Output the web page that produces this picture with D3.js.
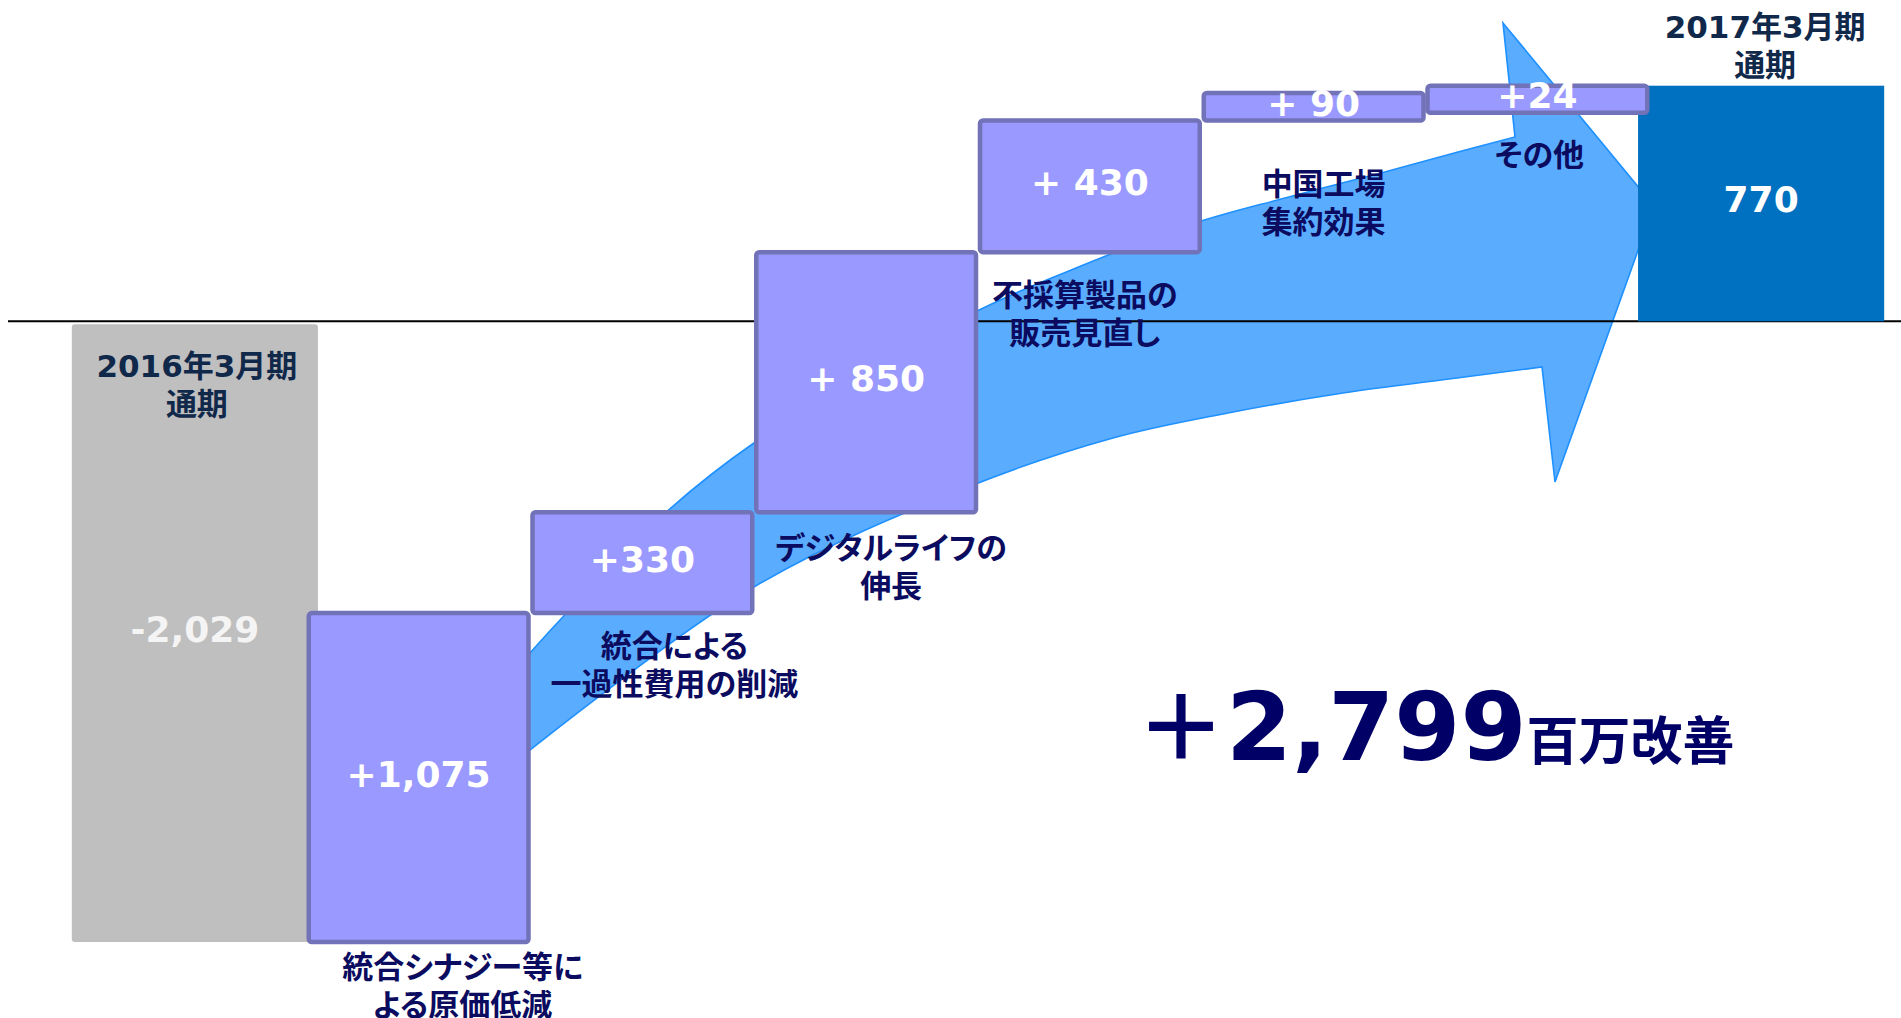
<!DOCTYPE html>
<html>
<head>
<meta charset="utf-8">
<script src="https://cdn.jsdelivr.net/npm/d3@7"></script>
<style>
html, body { margin: 0; padding: 0; background: #fff; overflow: hidden; }
svg { display: block; }
text { font-weight: bold; }
.jp { font-family: "Noto Sans CJK JP", sans-serif; font-feature-settings: "palt"; }
.num { font-family: "DejaVu Sans", "Noto Sans CJK JP", sans-serif; }
</style>
</head>
<body>
<div id="chart"></div>
<script>
// data (百万円)
const categories = ["2016年3月期通期", "統合シナジー等による原価低減", "統合による一過性費用の削減",
    "デジタルライフの伸長", "不採算製品の販売見直し", "中国工場集約効果", "その他", "2017年3月期通期"];
const labelLines = [["2016年3月期", "通期"], ["統合シナジー等に", "よる原価低減"], ["統合による", "一過性費用の削減"],
    ["デジタルライフの", "伸長"], ["不採算製品の", "販売見直し"], ["中国工場", "集約効果"], ["その他"], ["2017年3月期", "通期"]];
const startValue = -2029;
const stepValues = [1075, 330, 850, 430, 90, 24];
const endValue = 770;
const valueLabels = ["-2,029", "+1,075", "+330", "+ 850", "+ 430", "+ 90", "+24", "770"];
const improvementValue = 2799;
const improvementUnit = "百万改善";

// label nudges (px), totals anchored to bar top, steps to bar bottom
const labelDx = [2, 44, 32, 25, -5, 10, 2, 4];
const labelDy = [41, 24, 32, 35, 42, 63, 42, -59];

const width = 1901, height = 1018;

// build waterfall rows
var rows = [];
rows.push({cat: categories[0], from: 0, to: startValue, total: true});
var run = startValue;
stepValues.forEach(function(v, i) {
    rows.push({cat: categories[i + 1], from: run, to: run + v, total: false});
    run += v;
});
rows.push({cat: categories[7], from: 0, to: endValue, total: true});

const svg = d3.select("#chart").append("svg")
    .attr("width", width)
    .attr("height", height);

const x = d3.scaleBand()
    .domain(categories)
    .range([83, 1873])
    .padding(0);

const y = d3.scaleLinear()
    .domain(d3.extent(rows.flatMap(d => [d.from, d.to])))
    .range([942, 85.7]);

const step = x.step();
const cx = d => x(d.cat) + x.bandwidth() / 2;

// decorative arrow behind the bars (pixel outline)
const arrowUpper = [[515, 670], [560, 620], [663, 515], [754, 443], [969, 315], [1076, 268], [1192, 224],
    [1285, 198], [1381, 173], [1458, 152], [1515, 137]];
const arrowHead = [[1503, 23], [1654, 206], [1555, 482], [1542, 367]];
const arrowLower = [[1542, 367], [1457, 378], [1343, 393], [1228, 413], [1113, 438], [968, 487], [754, 587], [515, 762]];
const curve = d3.line().curve(d3.curveCatmullRom.alpha(0.5));
svg.append("path")
    .attr("d", curve(arrowUpper) + arrowHead.map(p => "L" + p).join("") + curve(arrowLower).replace(/^M/, "L") + "Z")
    .attr("fill", "#5aacff")
    .attr("stroke", "#1e90ff")
    .attr("stroke-width", 1.6)
    .attr("stroke-linejoin", "miter");

// zero line
svg.append("line")
    .attr("x1", 8).attr("x2", width)
    .attr("y1", y(0)).attr("y2", y(0))
    .attr("stroke", "#000")
    .attr("stroke-width", 2);

// geometry for every bar
rows.forEach(function(d) {
    if (d.total) {
        d.w = step * 1.1;
        d.top = y(Math.max(d.from, d.to));
        d.bottom = y(Math.min(d.from, d.to));
        if (d.to < 0) d.top += 3;
    } else {
        d.w = step - 4;
        d.top = y(d.to);
        d.bottom = Math.max(y(d.from), d.top + 27);
    }
    d.x0 = cx(d) - d.w / 2;
});

svg.selectAll(".total").data(rows.filter(d => d.total)).enter().append("rect")
    .attr("class", "total")
    .attr("x", d => d.x0)
    .attr("y", d => d.top)
    .attr("width", d => d.w)
    .attr("height", d => d.bottom - d.top)
    .attr("rx", d => d.to < 0 ? 3 : 0)
    .attr("fill", d => d.to < 0 ? "#bfbfbf" : "#0070c0");

svg.selectAll(".step").data(rows.filter(d => !d.total)).enter().append("rect")
    .attr("class", "step")
    .attr("x", d => d.x0)
    .attr("y", d => d.top)
    .attr("width", d => d.w)
    .attr("height", d => d.bottom - d.top)
    .attr("rx", 3)
    .attr("fill", "#9999ff")
    .attr("stroke", "#7272b8")
    .attr("stroke-width", 4.5);

// values inside bars
svg.selectAll(".val").data(rows).enter().append("text")
    .attr("class", "val num")
    .attr("x", d => cx(d))
    .attr("y", d => (d.top + d.bottom) / 2 + 9)
    .attr("text-anchor", "middle")
    .attr("font-size", 36)
    .attr("fill", (d, i) => i === 0 ? "#f4f4f4" : "#fff")
    .text((d, i) => valueLabels[i]);

// category labels
rows.forEach(function(d, i) {
    const lineH = 38;
    const first = (d.total ? d.top : d.bottom) + labelDy[i];
    const t = svg.append("text")
        .attr("class", d.total ? "num" : "jp")
        .attr("text-anchor", "middle")
        .attr("font-size", d.total ? 31 : 31)
        .attr("fill", d.total ? "#10284a" : "#0b0b60");
    labelLines[i].forEach(function(line, k) {
        t.append("tspan")
            .attr("x", cx(d) + labelDx[i])
            .attr("y", first + k * lineH + 11.5)
            .text(line);
    });
});

// headline improvement
const big = svg.append("text")
    .attr("x", 1136)
    .attr("y", 760)
    .attr("fill", "#000066");
big.append("tspan")
    .attr("class", "jp")
    .attr("font-size", 90)
    .text("＋");
big.append("tspan")
    .attr("class", "num")
    .attr("font-size", 95)
    .text(d3.format(",")(improvementValue));
big.append("tspan")
    .attr("class", "jp")
    .attr("font-size", 52)
    .text(improvementUnit);
</script>
</body>
</html>
